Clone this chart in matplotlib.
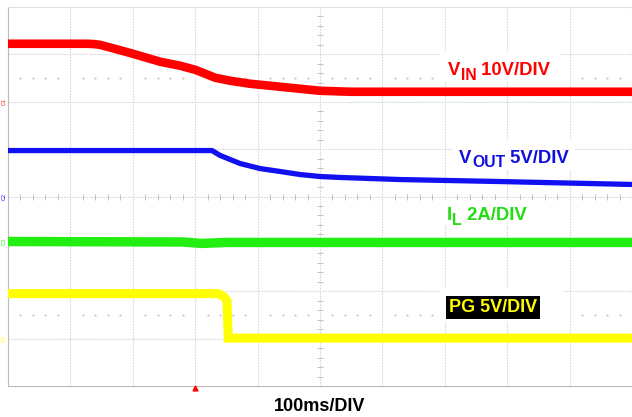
# oscilloscope capture: input brown-out, VIN / VOUT / IL / PG
import numpy as np
import matplotlib.pyplot as plt
from matplotlib.patches import Rectangle

plt.rcParams['font.family'] = ['Liberation Sans', 'DejaVu Sans']

# time axis in ms (100 ms/div, 10 div)
vin_t = [0, 128, 138, 147, 171, 200, 244, 276, 300, 316, 332, 356, 388, 420, 468, 500, 548, 1000]
vin_v = [12.24, 12.24, 12.17, 12.03, 11.19, 10.13, 8.44, 7.60, 6.75, 5.91, 5.07, 4.43, 3.80, 3.38, 2.74, 2.32, 2.11, 2.11]

vout_t = [0, 327, 340, 372, 404, 436, 468, 500, 532, 628, 788, 1000]
vout_v = [4.85, 4.85, 4.33, 3.48, 2.95, 2.64, 2.32, 2.11, 2.01, 1.79, 1.58, 1.27]

il_t = [0, 280, 310, 350, 400, 1000]
il_a = [0.0, -0.02, -0.08, -0.04, -0.04, -0.04]

pg_t = [0, 337, 346, 351, 353, 1000]
pg_v = [4.75, 4.75, 4.43, 4.01, 0.05, 0.05]

# scale (units per div) and ground marker position (div) for each channel
scale = {'C1': 10.0, 'C2': 5.0, 'C3': 2.0, 'C4': 5.0}
offset = {'C1': 6.0, 'C2': 4.0, 'C3': 3.05, 'C4': 1.0}
colors = {'C1': '#ff0000', 'C2': '#1010f0', 'C3': '#22ee11', 'C4': '#ffff00'}

fig = plt.figure(figsize=(6.32, 4.17), dpi=100)
ax = fig.add_axes([8 / 632, 31 / 417, 624 / 632, 379 / 417])
ax.set_xlim(0, 1000)
ax.set_ylim(0, 8)
ax.set_xticks([])
ax.set_yticks([])
for side in ['top', 'right']:
    ax.spines[side].set_color('#e0e0e0')
for side in ['left', 'bottom']:
    ax.spines[side].set_color('#bbbbbb')

# graticule
gc = '#d8d8d8'
for x in range(100, 1000, 100):
    ax.axvline(x, color=gc, lw=0.8, ls=(0, (1.5, 1)), zorder=1)
for y in range(1, 8):
    ax.axhline(y, color=gc, lw=0.8, ls=(0, (1.5, 1)), zorder=1)

minor_x = np.array([x for x in np.arange(20, 1000, 20) if x % 100 != 0])
minor_y = np.array([y for y in np.arange(0.2, 8, 0.2) if abs(y - round(y)) > 0.05])
ax.plot(minor_x, np.full(len(minor_x), 4), ls='none', marker='|', ms=4, color='#b8b8b8', mew=0.6, zorder=1)
ax.plot(np.full(len(minor_y), 500), minor_y, ls='none', marker='_', ms=4, color='#b8b8b8', mew=0.6, zorder=1)
for row in [1.5, 6.5]:
    ax.plot(minor_x, np.full(len(minor_x), row), ls='none', marker='s', ms=0.6, color='#cccccc', zorder=1)

def to_div(vals, ch):
    return np.array(vals) / scale[ch] + offset[ch]

ax.plot(vin_t, to_div(vin_v, 'C1'), color=colors['C1'], lw=6.2, solid_capstyle='butt', zorder=3)
ax.plot(vout_t, to_div(vout_v, 'C2'), color=colors['C2'], lw=3.8, solid_capstyle='butt', zorder=3)
ax.plot(il_t, to_div(il_a, 'C3'), color=colors['C3'], lw=6.8, solid_capstyle='butt', zorder=3)
ax.plot(pg_t, to_div(pg_v, 'C4'), color=colors['C4'], lw=6.5, solid_capstyle='butt',
        solid_joinstyle='miter', zorder=3)

# channel ground markers
for ch in ['C1', 'C2', 'C3', 'C4']:
    ax.text(-2, offset[ch], ch, color=colors[ch], fontsize=4, rotation=90,
            ha='right', va='center', clip_on=False)

# trigger position marker
ax.plot([300], [-0.05], marker='^', ms=3.5, color='#ff0000', clip_on=False, zorder=5)

# white patches the labels were pasted on
for x0, y0, w, h in [(692, 6.42, 193, 0.63), (711, 4.56, 198, 0.63),
                     (692, 3.40, 154, 0.53), (692, 1.35, 197, 0.72)]:
    ax.add_patch(Rectangle((x0, y0), w, h, facecolor='white', edgecolor='none', zorder=2))


def label(x, y, main, sub, rest, color):
    """label with a large subscript, like the scope annotations"""
    t1 = ax.text(x, y, main, color=color, fontsize=13.3, fontweight='bold',
                 va='baseline', zorder=4)
    t2 = ax.annotate(sub, xy=(1, 0), xycoords=t1, xytext=(0.3, -2.6), textcoords='offset points',
                     color=color, fontsize=11.3, fontweight='bold', va='bottom', zorder=4)
    ax.annotate(rest, xy=(1, 0), xycoords=t2, xytext=(0, 2.6), textcoords='offset points',
                color=color, fontsize=13.3, fontweight='bold', va='bottom', zorder=4)


label(705, 6.56, 'V', 'IN', ' 10V/DIV', '#ff0000')
label(723, 4.71, 'V', 'OUT', ' 5V/DIV', '#1010dd')
label(703, 3.50, 'I', 'L', ' 2A/DIV', '#22dd11')
ax.text(707, 1.56, 'PG 5V/DIV', color='#ffff00', fontsize=13, fontweight='bold',
        va='baseline', bbox=dict(facecolor='black', edgecolor='none', pad=2), zorder=4)

fig.text(0.506, 0.0144, '100ms/DIV', color='black', fontsize=13, fontweight='bold',
         ha='center', va='baseline')

fig.savefig('out.png', dpi=100)
